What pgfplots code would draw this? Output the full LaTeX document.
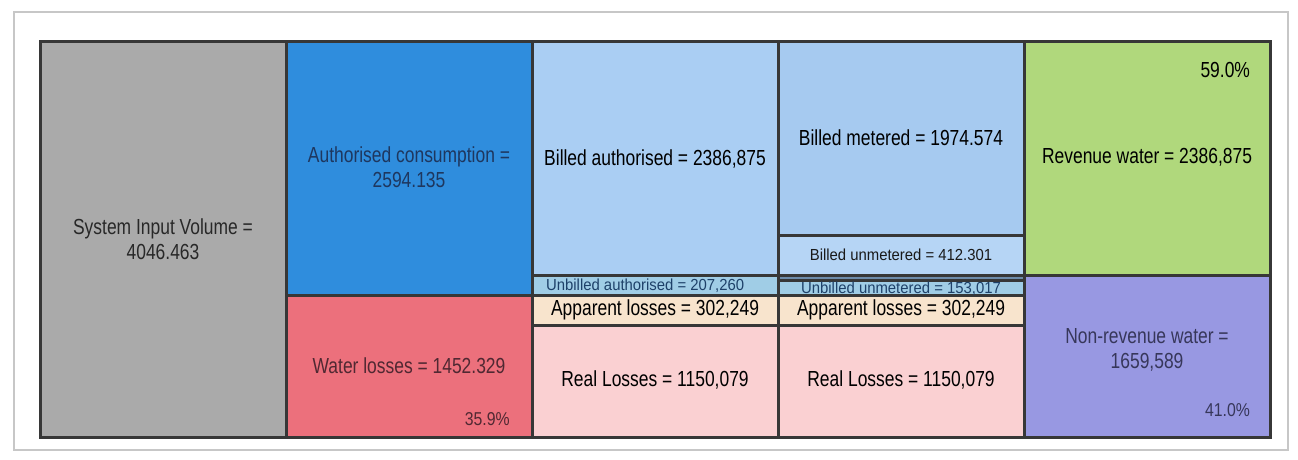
\documentclass[border=0pt]{standalone}
\usepackage{pgfplots}
\pgfplotsset{compat=1.18}
\usepackage{pgfplotstable}
\usepackage{graphicx}
\usepackage{fontspec}
\setmainfont{Liberation Sans}

\definecolor{cGray}{RGB}{170,170,170}
\definecolor{cBlue}{RGB}{47,141,221}
\definecolor{cRed}{RGB}{236,112,124}
\definecolor{cBill}{RGB}{170,206,243}
\definecolor{cUnb}{RGB}{160,205,230}
\definecolor{cApp}{RGB}{248,228,205}
\definecolor{cReal}{RGB}{250,208,210}
\definecolor{cMet}{RGB}{166,202,240}
\definecolor{cUnmet}{RGB}{182,213,245}
\definecolor{cUnbm}{RGB}{110,140,170}
\definecolor{cGreen}{RGB}{176,216,124}
\definecolor{cPurple}{RGB}{152,152,226}
\definecolor{cEdge}{RGB}{55,55,55}

% narrow text: squeeze horizontally
\newcommand{\nt}[1]{\scalebox{0.8}[1]{\fontsize{10.9}{12.8}\selectfont\begin{tabular}{@{}c@{}}#1\end{tabular}}}
\newcommand{\st}[1]{\scalebox{0.93}[1]{\fontsize{8}{9}\selectfont #1}}
\newcommand{\pt}[1]{\scalebox{0.85}[1]{\fontsize{9.3}{11}\selectfont #1}}

% one row per column of the water balance, one column per box
\pgfplotstableread{
x siv     wl       ac       real3    app3    unb3    bill3    real4    app4    unbu4   unbm4  billu4  billm4   nrw      rev
0 4046.463 0       0        0        0       0       0        0        0       0       0      0       0        0        0
1 0       1452.329 2594.135 0        0       0       0        0        0       0       0      0       0        0        0
2 0       0        0        1150.079 302.249 207.260 2386.875 0        0       0       0      0       0        0        0
3 0       0        0        0        0       0       0        1150.079 302.249 153.017 54.243 412.301 1974.574 0        0
4 0       0        0        0        0       0       0        0        0       0       0      0       0        1659.589 2386.875
}\wb

\begin{document}
\begin{tikzpicture}
\begin{axis}[
    scale only axis,
    width=637pt, height=219pt,
    xmin=-0.6057, xmax=4.573,
    ymin=-122.6, ymax=4353,
    xtick=\empty, ytick=\empty,
    axis line style={black!22, line width=0.6pt},
    ybar stacked,
    bar width=1,
    clip=false,
    every axis plot/.append style={draw=cEdge, line width=1.5pt},
]
\addplot[fill=cGray]   table[x=x,y=siv]   {\wb};
\addplot[fill=cRed]    table[x=x,y=wl]    {\wb};
\addplot[fill=cBlue]   table[x=x,y=ac]    {\wb};
\addplot[fill=cReal]   table[x=x,y=real3] {\wb};
\addplot[fill=cApp]    table[x=x,y=app3]  {\wb};
\addplot[fill=cUnb]    table[x=x,y=unb3]  {\wb};
\addplot[fill=cBill]   table[x=x,y=bill3] {\wb};
\addplot[fill=cReal]   table[x=x,y=real4] {\wb};
\addplot[fill=cApp]    table[x=x,y=app4]  {\wb};
\addplot[fill=cUnb]    table[x=x,y=unbu4] {\wb};
\addplot[fill=cUnbm]   table[x=x,y=unbm4] {\wb};
\addplot[fill=cUnmet]  table[x=x,y=billu4]{\wb};
\addplot[fill=cMet]    table[x=x,y=billm4]{\wb};
\addplot[fill=cPurple] table[x=x,y=nrw]   {\wb};
\addplot[fill=cGreen]  table[x=x,y=rev]   {\wb};

% label anchors (stacked bars are drawn last, so text goes after the axis)
\coordinate (siv)  at (axis cs:0,2003);
\coordinate (ac)   at (axis cs:1,2738);
\coordinate (wl)   at (axis cs:1,715);
\coordinate (wlp)  at (axis cs:1.4106,194);
\coordinate (ba)   at (axis cs:2,2841);
\coordinate (ua)   at (axis cs:1.96,1552);
\coordinate (al3)  at (axis cs:2,1301);
\coordinate (rl3)  at (axis cs:2,575);
\coordinate (bm)   at (axis cs:3,3045);
\coordinate (bu)   at (axis cs:3,1875);
\coordinate (uu)   at (axis cs:3,1525);
\coordinate (al4)  at (axis cs:3,1301);
\coordinate (rl4)  at (axis cs:3,575);
\coordinate (rw)   at (axis cs:4,2861);
\coordinate (rwp)  at (axis cs:4.42,3740);
\coordinate (nrw)  at (axis cs:4,889);
\coordinate (nrwp) at (axis cs:4.42,286);

% white margin round the frame
\path (rel axis cs:0,0) ++(-7pt,-5pt);
\path (rel axis cs:1,1) ++(5pt,6pt);
\end{axis}

\node[inner sep=0pt, text={rgb,255:red,40;green,40;blue,40}] at (siv) {\nt{System Input Volume =\\4046.463}};
\node[inner sep=0pt, text={rgb,255:red,30;green,55;blue,95}] at (ac) {\nt{Authorised consumption =\\2594.135}};
\node[inner sep=0pt, text={rgb,255:red,80;green,40;blue,50}] at (wl) {\nt{Water losses = 1452.329}};
\node[inner sep=0pt, anchor=east, text={rgb,255:red,80;green,40;blue,50}] at (wlp) {\pt{35.9\%}};
\node[inner sep=0pt, text=black] at (ba) {\nt{Billed authorised = 2386,875}};
\node[inner sep=0pt, text={rgb,255:red,30;green,65;blue,105}] at (ua) {\st{Unbilled authorised = 207,260}};
\node[inner sep=0pt, text=black] at (al3) {\nt{Apparent losses = 302,249}};
\node[inner sep=0pt, text=black] at (rl3) {\nt{Real Losses = 1150,079}};
\node[inner sep=0pt, text=black] at (bm) {\nt{Billed metered = 1974.574}};
\node[inner sep=0pt, text=black!90] at (bu) {\st{Billed unmetered = 412.301}};
\node[inner sep=0pt, text={rgb,255:red,30;green,65;blue,105}] at (uu) {\st{Unbilled unmetered = 153,017}};
\node[inner sep=0pt, text=black] at (al4) {\nt{Apparent losses = 302,249}};
\node[inner sep=0pt, text=black] at (rl4) {\nt{Real Losses = 1150,079}};
\node[inner sep=0pt, text=black] at (rw) {\nt{Revenue water = 2386,875}};
\node[inner sep=0pt, anchor=east, text=black] at (rwp) {\nt{59.0\%}};
\node[inner sep=0pt, text={rgb,255:red,55;green,55;blue,90}] at (nrw) {\nt{Non-revenue water =\\1659,589}};
\node[inner sep=0pt, anchor=east, text={rgb,255:red,55;green,55;blue,90}] at (nrwp) {\pt{41.0\%}};
\end{tikzpicture}
\end{document}
